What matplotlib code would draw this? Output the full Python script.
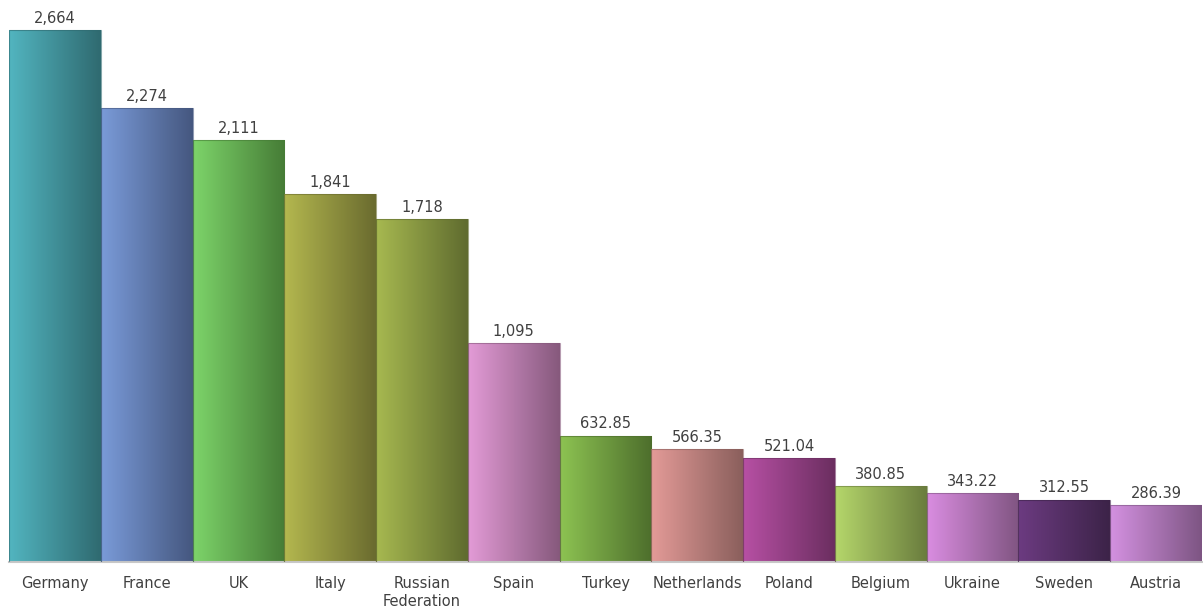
import matplotlib
matplotlib.use("Agg")
import matplotlib.pyplot as plt
import numpy as np
from matplotlib.colors import LinearSegmentedColormap

categories = ["Germany", "France", "UK", "Italy", "Russian\nFederation", "Spain", "Turkey",
              "Netherlands", "Poland", "Belgium", "Ukraine", "Sweden", "Austria"]
values = [2664, 2274, 2111, 1841, 1718, 1095, 632.85, 566.35, 521.04, 380.85, 343.22, 312.55, 286.39]
labels = ["2,664", "2,274", "2,111", "1,841", "1,718", "1,095", "632.85", "566.35", "521.04",
          "380.85", "343.22", "312.55", "286.39"]
left_colors = ["#52b5c0", "#7a9bd9", "#7dd46a", "#b4b84f", "#a7b950", "#e39bd7", "#8dc352",
               "#e49b98", "#b750a4", "#b5d76b", "#da8de1", "#6c3b81", "#d491e1"]
right_colors = ["#2f6a70", "#45577f", "#467c36", "#6a6b2f", "#5f6b2f", "#86597c", "#4d6e2c",
                "#8a5f5c", "#6b2e60", "#6a7c3e", "#805582", "#3c2348", "#7d5583"]

fig = plt.figure(figsize=(12.03, 6.15), dpi=100)
ax = fig.add_axes([9/1203, 53/615, 1193/1203, 562/615])
x = np.arange(len(categories))
bars = ax.bar(x, values, width=1.0, color="none", edgecolor="none")
ax.set_xlim(-0.5, len(categories) - 0.5)
ax.set_ylim(0, 2814)

grad = np.linspace(0, 1, 256).reshape(1, -1)
for i, b in enumerate(bars):
    cmap = LinearSegmentedColormap.from_list("g%d" % i, [left_colors[i], right_colors[i]])
    x0, w, h = b.get_x(), b.get_width(), b.get_height()
    im = ax.imshow(grad, cmap=cmap, aspect="auto", extent=[x0, x0 + w, 0, h],
                   interpolation="bilinear", zorder=2)
    im.set_clip_path(b)
    ax.add_patch(plt.Rectangle((x0, 0), w, h, fill=False, edgecolor=right_colors[i],
                               linewidth=0.8, alpha=0.6, zorder=3))
    ax.annotate(labels[i], (x0 + w / 2, h), xytext=(0, 3), textcoords="offset points",
                ha="center", va="bottom", fontsize=10.5, color="#404040")

ax.set_xticks(x)
ax.set_xticklabels(categories, fontsize=10.5, color="#404040", linespacing=1.3)
ax.tick_params(axis="x", length=0, pad=10)
ax.set_yticks([])
for s in ["top", "left", "right"]:
    ax.spines[s].set_visible(False)
ax.spines["bottom"].set_color("#c8c8c8")
ax.spines["bottom"].set_linewidth(1.5)
ax.set_facecolor("white")
fig.savefig("out.png", dpi=100)
